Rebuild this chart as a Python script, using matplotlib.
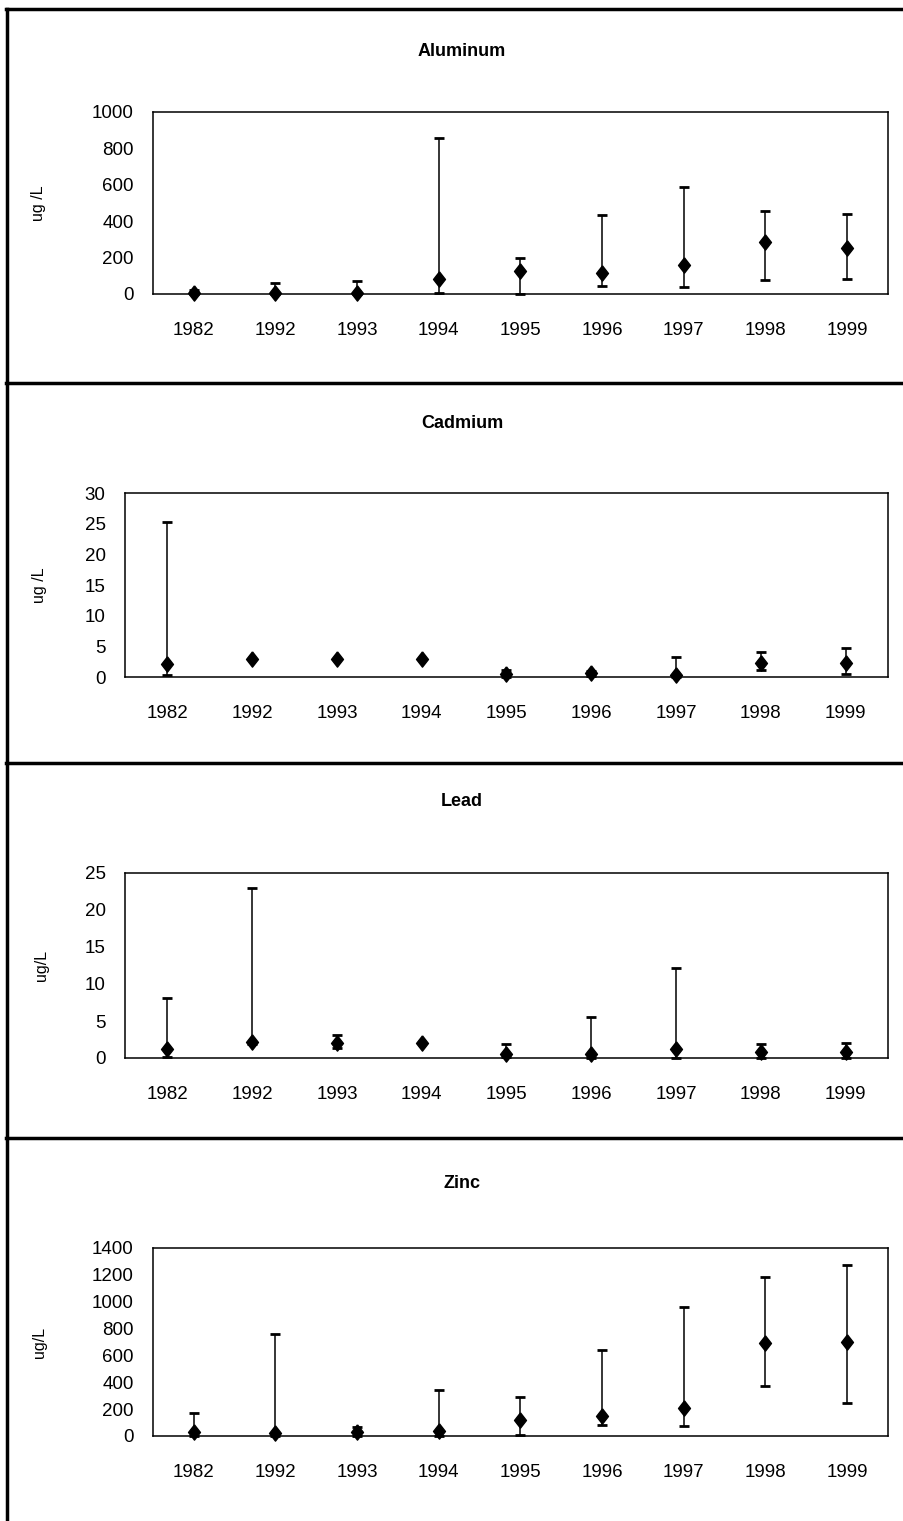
import matplotlib
matplotlib.use("Agg")
import matplotlib.pyplot as plt
from matplotlib.lines import Line2D

plt.rcParams['font.family'] = ['Liberation Sans', 'DejaVu Sans']

years = ['1982', '1992', '1993', '1994', '1995', '1996', '1997', '1998', '1999']

# Aluminum (ug/L): mean, low, high
al_mean = [5, 3, 3, 83, 127, 116, 160, 287, 252]
al_low = [0, 0, 0, 7, 0, 46, 39, 75, 83]
al_high = [20, 62, 72, 858, 197, 432, 588, 458, 441]

# Cadmium
cd_mean = [2.2, 3.0, 3.0, 3.0, 0.5, 0.6, 0.4, 2.3, 2.3]
cd_low = [0.3, 3.0, 3.0, 3.0, 0.0, 0.2, 0.0, 1.1, 0.5]
cd_high = [25.2, 3.0, 3.0, 3.0, 1.2, 1.0, 3.3, 4.1, 4.8]

# Lead
pb_mean = [1.25, 2.2, 2.0, 2.05, 0.6, 0.6, 1.25, 0.8, 0.8]
pb_low = [0.1, 1.9, 1.4, 2.05, 0.1, 0.0, 0.0, 0.0, 0.0]
pb_high = [8.1, 23.0, 3.1, 2.05, 1.9, 5.5, 12.1, 1.9, 2.0]

# Zinc
zn_mean = [30, 20, 30, 35, 117, 147, 206, 693, 700]
zn_low = [0, 0, 0, 0, 10, 84, 76, 376, 249]
zn_high = [172, 761, 66, 345, 294, 642, 964, 1183, 1274]

W, H = 904, 1521
fig = plt.figure(figsize=(W / 100, H / 100), dpi=100)

# slightly tall diamond like the spreadsheet marker
diamond = [(0, 1), (0.78, 0), (0, -1), (-0.78, 0), (0, 1)]


def px_axes(left, top, right, bottom):
    return fig.add_axes([left / W, 1 - bottom / H, (right - left) / W, (bottom - top) / H])


panels = [
    dict(name='Aluminum', mean=al_mean, low=al_low, high=al_high, ymax=1000, step=200,
         box=(153, 112, 888, 294), title_y=52, ylab='ug /L', ylab_x=38),
    dict(name='Cadmium', mean=cd_mean, low=cd_low, high=cd_high, ymax=30, step=5,
         box=(125, 493, 888, 677), title_y=423, ylab='ug /L', ylab_x=40),
    dict(name='Lead', mean=pb_mean, low=pb_low, high=pb_high, ymax=25, step=5,
         box=(125, 873, 888, 1058), title_y=802, ylab='ug/L', ylab_x=42),
    dict(name='Zinc', mean=zn_mean, low=zn_low, high=zn_high, ymax=1400, step=200,
         box=(153, 1248, 888, 1436), title_y=1183, ylab='ug/L', ylab_x=40),
]

for p in panels:
    l, t, r, b = p['box']
    ax = px_axes(l, t, r, b)
    x = list(range(len(years)))
    lo = [m - v for m, v in zip(p['mean'], p['low'])]
    hi = [v - m for m, v in zip(p['mean'], p['high'])]
    ax.errorbar(x, p['mean'], yerr=[lo, hi], fmt='none', ecolor='black',
                elinewidth=1.1, capsize=3.5, capthick=2, clip_on=False)
    ax.plot(x, p['mean'], linestyle='none', marker=diamond, ms=11, color='black',
            clip_on=False, zorder=5)
    ax.set_xlim(-0.5, len(years) - 0.5)
    ax.set_ylim(0, p['ymax'])
    ax.set_yticks(range(0, p['ymax'] + 1, p['step']))
    ax.set_xticks(x)
    ax.set_xticklabels(years)
    ax.tick_params(axis='both', length=0, labelsize=13.5)
    ax.tick_params(axis='x', pad=20)
    ax.tick_params(axis='y', pad=14)
    for s in ax.spines.values():
        s.set_linewidth(1.1)
        s.set_color('black')
    fig.text(462 / W, 1 - p['title_y'] / H, p['name'], ha='center', va='center',
             fontsize=13, fontweight='bold')
    fig.text(p['ylab_x'] / W, 1 - (t + b) / 2 / H, p['ylab'], ha='center', va='center',
             rotation=90, fontsize=11.5)

# panel frame lines
for y in [9, 383, 763, 1138]:
    fig.add_artist(Line2D([6 / W, 1], [1 - y / H, 1 - y / H], color='black', lw=2.5))
fig.add_artist(Line2D([7 / W, 7 / W], [1 - 9 / H, 0], color='black', lw=2.5))

fig.savefig('out.png', dpi=100)
